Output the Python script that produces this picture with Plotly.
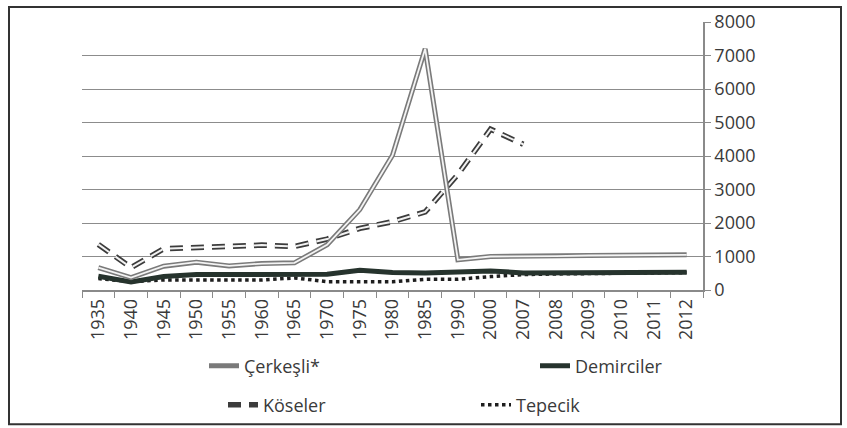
import plotly.graph_objects as go

years = ["1935", "1940", "1945", "1950", "1955", "1960", "1965", "1970", "1975", "1980",
         "1985", "1990", "2000", "2007", "2008", "2009", "2010", "2011", "2012"]

cerkesli = [670, 370, 710, 830, 720, 790, 810, 1350, 2400, 4020, 7200, 900, 1000, 1000,
            1010, 1030, 1040, 1040, 1050]
demirciler = [410, 240, 400, 460, 460, 460, 460, 470, 590, 520, 510, 540, 570, 510,
              515, 520, 520, 540, 530]
koseler = [1360, 670, 1230, 1270, 1300, 1340, 1300, 1520, 1840, 2040, 2330, 3450, 4800, 4350,
           None, None, None, None, None]
tepecik = [340, 250, 300, 300, 300, 300, 360, 250, 250, 250, 320, 320, 400, 460,
           480, 490, 500, 510, 520]

yticks = [0, 1000, 2000, 3000, 4000, 5000, 6000, 7000, 8000]

FONT = "Open Sans"
TXT = "#3a3a3a"
W, H = 847, 428

fig = go.Figure()

# Tepecik (dotted)
fig.add_trace(go.Scatter(x=years, y=tepecik, mode="lines", name="Tepecik",
                         line=dict(color="#1e1e1e", width=3.5, dash="dot"),
                         legend="legend2"))
# Demirciler (solid dark)
fig.add_trace(go.Scatter(x=years, y=demirciler, mode="lines", name="Demirciler",
                         line=dict(color="#26332d", width=5), legend="legend"))
# Köseler (outlined dashes)
fig.add_trace(go.Scatter(x=years, y=koseler, mode="lines", name="Köseler",
                         line=dict(color="#3c3c3c", width=5.5, dash="13px,8px"),
                         connectgaps=False, legend="legend2", legendwidth=208))
fig.add_trace(go.Scatter(x=years, y=koseler, mode="lines", name="Köseler",
                         line=dict(color="#f2f2f2", width=2, dash="13px,8px"),
                         showlegend=False, hoverinfo="skip"))
# Çerkeşli (double line)
fig.add_trace(go.Scatter(x=years, y=cerkesli, mode="lines", name="Çerkeşli*",
                         line=dict(color="#7a7a7a", width=5), legend="legend",
                         legendwidth=286))
fig.add_trace(go.Scatter(x=years, y=cerkesli, mode="lines", name="Çerkeşli*",
                         line=dict(color="#f4f4f4", width=1.8),
                         showlegend=False, hoverinfo="skip"))

L, R, T, B = 82, 144, 22, 137.5
plot_h = H - T - B

def px_x(p):
    return (p - L) / (W - L - R)

def px_y(p):
    return (H - B - p) / plot_h

leg_common = dict(orientation="h", xref="container", yref="container",
                  xanchor="left", yanchor="middle", itemwidth=30,
                  font=dict(family=FONT, size=18, color=TXT),
                  bgcolor="rgba(0,0,0,0)", traceorder="reversed")

fig.update_layout(
    width=W, height=H,
    margin=dict(l=L, r=R, t=T, b=B, autoexpand=False),
    paper_bgcolor="white", plot_bgcolor="white",
    font=dict(family=FONT, size=18, color=TXT),
    legend=dict(x=204 / W, y=1 - 366 / H, **leg_common),
    legend2=dict(x=223 / W, y=1 - 405 / H, **leg_common),
    showlegend=True,
)

fig.update_xaxes(
    type="category", categoryorder="array", categoryarray=years,
    range=[-0.5, len(years) - 0.5],
    showgrid=False, showline=True, linecolor="#8a8a8a", linewidth=1.5,
    ticks="outside", tickson="boundaries", ticklen=6, tickcolor="#8a8a8a",
    tickangle=-90, tickfont=dict(family=FONT, size=18, color=TXT),
    zeroline=False, fixedrange=True, automargin=False,
)
fig.update_yaxes(
    side="right", range=[0, 8000], tickvals=yticks,
    showgrid=True, gridcolor="#8c8c8c", gridwidth=1,
    showline=True, linecolor="#8a8a8a", linewidth=1.5,
    ticks="outside", ticklen=6, tickcolor="#8a8a8a",
    tickfont=dict(family=FONT, size=18, color=TXT),
    zeroline=False, fixedrange=True, automargin=False,
)

# outer frame
fig.add_shape(type="rect", xref="paper", yref="paper",
              x0=px_x(9), x1=px_x(841), y0=px_y(425), y1=px_y(7),
              line=dict(color="#333333", width=2), fillcolor="rgba(0,0,0,0)", layer="below")

fig.write_html("out.html", config={"displayModeBar": False},
               post_script="document.body.style.margin='0';")
